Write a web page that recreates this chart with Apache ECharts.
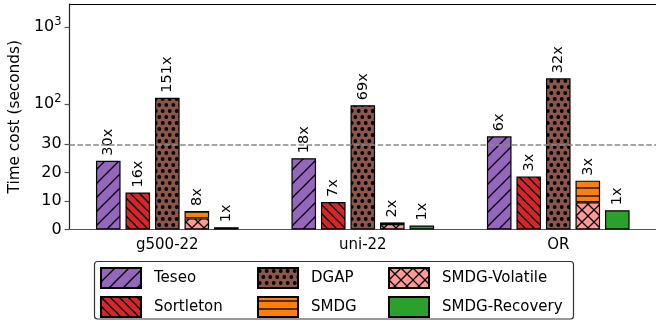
<!DOCTYPE html>
<html>
<head>
<meta charset="utf-8">
<script src="https://cdn.jsdelivr.net/npm/echarts@6/dist/echarts.min.js"></script>
<style>
  html, body { margin: 0; padding: 0; background: #fff; }
  #chart { width: 656px; height: 322px; }
</style>
</head>
<body>
<div id="chart"></div>
<script>
// Workloads on the x axis
const categories = ['g500-22', 'uni-22', 'OR'];

// Run times in seconds
const teseo        = [24.2, 25.1, 38.1];
const sortleton    = [13.0, 9.7, 18.7];
const dgap         = [121, 96.5, 216];
const smdg         = [6.5, 2.5, 17.2];   // full SMDG time
const smdgVolatile = [3.9, 1.9, 9.6];    // volatile part of SMDG
const smdgRecovery = [0.8, 1.4, 6.8];

// y axis ticks: [base, exponent] labels
const tickValues = [0, 10, 20, 30, 100, 1000];
const tickLabels = [['0', ''], ['10', ''], ['20', ''], ['30', ''], ['10', '2'], ['10', '3']];

// Axis is linear up to 30 s and logarithmic above it
const LIN_LIMIT = 30;
const UNITS_PER_DECADE = 27.1;
const Y_TOP = 79.4;
function T(v) {
  return v <= LIN_LIMIT ? v : LIN_LIMIT + Math.log10(v / LIN_LIMIT) * UNITS_PER_DECADE;
}

const FONT = 'DejaVu Sans';

// Hatch tiles drawn on small canvases
function tile(w, h, bg, draw) {
  const c = document.createElement('canvas');
  c.width = w; c.height = h;
  const g = c.getContext('2d');
  g.fillStyle = bg;
  g.fillRect(0, 0, w, h);
  g.strokeStyle = '#000';
  g.fillStyle = '#000';
  g.lineWidth = 1.3;
  draw(g, w, h);
  return { image: c, repeat: 'repeat' };
}
function diagonal(p, bg, forward) {
  return tile(p, p, bg, (g) => {
    for (let k = -1; k <= 1; k++) {
      g.beginPath();
      if (forward) { g.moveTo(-2, p + 2 + k * p); g.lineTo(p + 2, -2 + k * p); }
      else { g.moveTo(-2, -2 + k * p); g.lineTo(p + 2, p + 2 + k * p); }
      g.stroke();
    }
  });
}
function horizontal(p, bg) {
  return tile(p, p, bg, (g) => {
    g.beginPath(); g.moveTo(0, p / 2); g.lineTo(p, p / 2); g.stroke();
  });
}
function cross(p, bg) {
  return tile(p, p, bg, (g) => {
    for (let k = -1; k <= 1; k++) {
      g.beginPath(); g.moveTo(-2, p + 2 + k * p); g.lineTo(p + 2, -2 + k * p); g.stroke();
      g.beginPath(); g.moveTo(-2, -2 + k * p); g.lineTo(p + 2, p + 2 + k * p); g.stroke();
    }
  });
}
function dots(w, h, bg, r) {
  return tile(w, h, bg, (g) => {
    for (let dx = -w; dx <= w; dx += w) {
      for (let dy = -h; dy <= h; dy += h) {
        [[w * 0.25, h * 0.25], [w * 0.75, h * 0.75]].forEach(([x, y]) => {
          g.beginPath(); g.arc(x + dx, y + dy, r, 0, Math.PI * 2); g.fill();
        });
      }
    }
  });
}

const fills = {
  teseo: diagonal(14, '#9467bd', true),
  sortleton: diagonal(9, '#d62728', false),
  dgap: dots(7, 12, '#8c564b', 1.9),
  smdg: horizontal(8, '#ff7f0e'),
  volatile: cross(12, '#ff9896'),
  recovery: '#2ca02c'
};

function speedupLabel(raw) {
  return {
    show: true,
    position: 'top',
    rotate: 90,
    align: 'left',
    verticalAlign: 'middle',
    distance: 5,
    fontFamily: FONT,
    fontSize: 14.5,
    color: '#000',
    formatter: (p) => Math.round(raw[p.dataIndex] / smdgRecovery[p.dataIndex]) + 'x'
  };
}

function barSeries(name, values, fill, extra) {
  return Object.assign({
    name: name,
    type: 'bar',
    barWidth: 24.6,
    barGap: '20%',
    data: values.map(T),
    itemStyle: { color: fill, borderColor: '#000', borderWidth: 1.2 },
    label: speedupLabel(values),
    emphasis: { disabled: true }
  }, extra || {});
}

const smdgTop = smdg.map((v, i) => T(v) - T(smdgVolatile[i]));

const series = [
  barSeries('Teseo', teseo, fills.teseo),
  barSeries('Sortleton', sortleton, fills.sortleton),
  barSeries('DGAP', dgap, fills.dgap),
  barSeries('SMDG-Volatile', smdgVolatile, fills.volatile, { stack: 'smdg', label: { show: false } }),
  Object.assign(barSeries('SMDG', smdg, fills.smdg, { stack: 'smdg' }), { data: smdgTop }),
  barSeries('SMDG-Recovery', smdgRecovery, fills.recovery, {
    markLine: {
      silent: true,
      symbol: ['none', 'none'],
      label: { show: false },
      lineStyle: { color: '#888', type: [5.5, 2.4], width: 1.5 },
      data: [{ yAxis: T(30) }]
    }
  })
];

function legendColumn(names, left) {
  return {
    data: names,
    orient: 'vertical',
    left: left,
    top: 267,
    padding: 0,
    icon: 'rect',
    itemWidth: 40,
    itemHeight: 20,
    itemGap: 7,
    selectedMode: false,
    textStyle: { fontFamily: FONT, fontSize: 15, color: '#000', padding: [0, 0, 0, 8] }
  };
}

const chart = echarts.init(document.getElementById('chart'), null, { renderer: 'canvas' });
chart.setOption({
  animation: false,
  textStyle: { fontFamily: FONT },
  grid: { left: 67.5, right: -6, top: 4, bottom: 92.5, containLabel: false },
  xAxis: [{
    type: 'category',
    data: categories,
    axisLine: { lineStyle: { color: '#555', width: 1.2 } },
    axisTick: { alignWithLabel: true, length: 5, lineStyle: { color: '#555', width: 1.2 } },
    axisLabel: { fontFamily: FONT, fontSize: 15, color: '#000', margin: 8 }
  }, {
    type: 'category',
    data: categories,
    position: 'top',
    axisLine: { lineStyle: { color: '#000', width: 1.2 } },
    axisTick: { show: false },
    axisLabel: { show: false }
  }],
  yAxis: {
    type: 'value',
    min: 0,
    max: Y_TOP,
    name: 'Time cost (seconds)',
    nameLocation: 'middle',
    nameGap: 43,
    nameTextStyle: { fontFamily: FONT, fontSize: 15.3, color: '#000' },
    splitLine: { show: false },
    axisLine: { show: true, lineStyle: { color: '#222', width: 1.2 } },
    axisTick: { show: true, length: 5, customValues: tickValues.map(T), lineStyle: { color: '#555', width: 1.2 } },
    axisLabel: {
      fontFamily: FONT, fontSize: 16, color: '#000', margin: 8,
      customValues: tickValues.map(T),
      formatter: (val) => {
        const i = tickValues.findIndex((t) => Math.abs(T(t) - val) < 1e-6);
        if (i < 0) return '';
        const [base, exp] = tickLabels[i];
        return exp ? '{b|' + base + '}{s|' + exp + '}' : base;
      },
      rich: {
        b: { fontFamily: FONT, fontSize: 16, lineHeight: 22, color: '#000' },
        s: { fontFamily: FONT, fontSize: 11.5, lineHeight: 12, verticalAlign: 'top', color: '#000' }
      }
    }
  },
  legend: [
    legendColumn(['Teseo', 'Sortleton'], 100),
    legendColumn(['DGAP', 'SMDG'], 257),
    legendColumn(['SMDG-Volatile', 'SMDG-Recovery'], 388)
  ],
  graphic: [{
    type: 'rect',
    z: -1,
    shape: { x: 94.5, y: 261.5, width: 479, height: 57.5, r: 3 },
    style: { fill: '#fff', stroke: '#333', lineWidth: 1.2 }
  }],
  series: series
});
</script>
</body>
</html>
